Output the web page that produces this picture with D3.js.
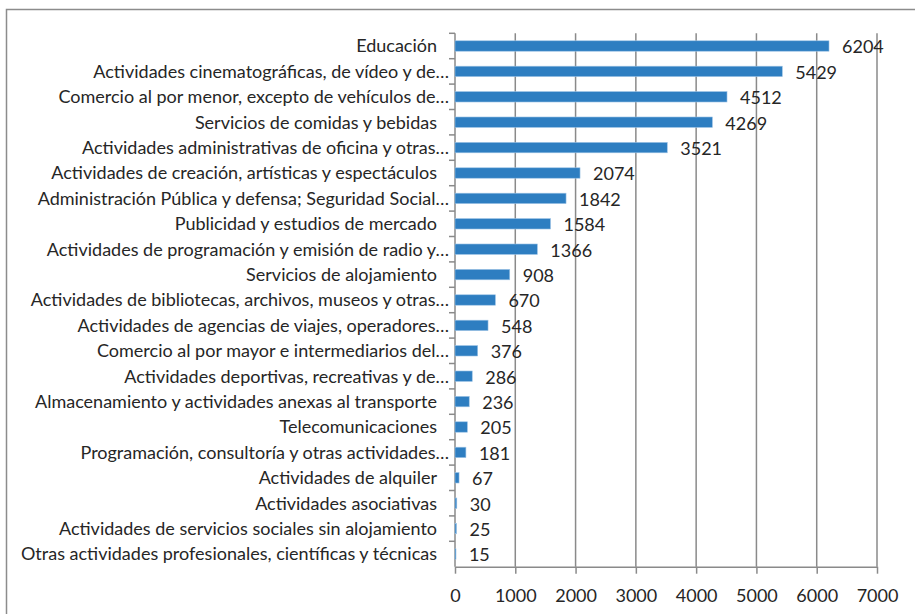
<!DOCTYPE html>
<html>
<head>
<meta charset="utf-8">
<style>
  body { margin: 0; background: #fff; }
  text { font-family: Lato, "Open Sans", sans-serif; fill: #262626; }
</style>
</head>
<body>
<svg width="915" height="614"></svg>
<script src="https://d3js.org/d3.v7.min.js"></script>
<script>

var categories = [
  "Educación",
  "Actividades cinematográficas, de vídeo y de…",
  "Comercio al por menor, excepto de vehículos de…",
  "Servicios de comidas y bebidas",
  "Actividades administrativas de oficina y otras…",
  "Actividades de creación, artísticas y espectáculos",
  "Administración Pública y defensa; Seguridad Social…",
  "Publicidad y estudios de mercado",
  "Actividades de programación y emisión de radio y…",
  "Servicios de alojamiento",
  "Actividades de bibliotecas, archivos, museos y otras…",
  "Actividades de agencias de viajes, operadores…",
  "Comercio al por mayor e intermediarios del…",
  "Actividades deportivas, recreativas y de…",
  "Almacenamiento y actividades anexas al transporte",
  "Telecomunicaciones",
  "Programación, consultoría y otras actividades…",
  "Actividades de alquiler",
  "Actividades asociativas",
  "Actividades de servicios sociales sin alojamiento",
  "Otras actividades profesionales, científicas y técnicas"
];
var values = [6204, 5429, 4512, 4269, 3521, 2074, 1842, 1584, 1366, 908,
              670, 548, 376, 286, 236, 205, 181, 67, 30, 25, 15];
var xTicks = [0, 1000, 2000, 3000, 4000, 5000, 6000, 7000];

var svg = d3.select("svg");

// chart frame (only top/left edges show in the crop)
svg.append("rect")
    .attr("x", 6.5).attr("y", 9.5)
    .attr("width", 930).attr("height", 630)
    .attr("fill", "none")
    .attr("stroke", "#8c8c8c")
    .attr("stroke-width", 1.5);

var x = d3.scaleLinear().domain([0, 7000]).range([455, 877]);
var y = d3.scaleBand().domain(categories).range([33.3, 566.7]).paddingInner(0.59).paddingOuter(0.295);
var band = d3.scaleBand().domain(categories).range([33.3, 566.7]);

// gridlines
svg.append("g")
  .selectAll("line")
  .data(xTicks.slice(1))
  .join("line")
    .attr("x1", function(d) { return x(d); })
    .attr("x2", function(d) { return x(d); })
    .attr("y1", 33.3)
    .attr("y2", 566.7)
    .attr("stroke", "#8a8a8a")
    .attr("stroke-width", 1.5);

// x axis
var xAxis = svg.append("g")
    .attr("transform", "translate(0,566.7)")
    .call(d3.axisBottom(x).tickValues(xTicks).tickFormat(d3.format("d"))
      .tickSize(7).tickSizeOuter(0).tickPadding(16));
xAxis.select(".domain").attr("stroke", "#8a8a8a").attr("stroke-width", 1.5);
xAxis.selectAll(".tick line").attr("stroke", "#8a8a8a").attr("stroke-width", 1.5);
xAxis.selectAll("text")
    .attr("font-family", "Lato, 'Open Sans', sans-serif")
    .attr("font-size", 18)
    .attr("fill", "#262626");

// y axis line and band ticks
svg.append("line")
    .attr("x1", 455).attr("x2", 455)
    .attr("y1", 33.3).attr("y2", 566.7)
    .attr("stroke", "#8a8a8a").attr("stroke-width", 1.5);
svg.append("g")
  .selectAll("line")
  .data(categories)
  .join("line")
    .attr("x1", 449).attr("x2", 455)
    .attr("y1", function(d) { return band(d); })
    .attr("y2", function(d) { return band(d); })
    .attr("stroke", "#8a8a8a").attr("stroke-width", 1.5);

// bars
svg.append("g")
  .selectAll("rect")
  .data(values)
  .join("rect")
    .attr("x", x(0))
    .attr("y", function(d, i) { return y(categories[i]); })
    .attr("width", function(d) { return Math.max(x(d) - x(0), 1); })
    .attr("height", y.bandwidth())
    .attr("fill", "#2e7ec1")
    .attr("stroke", "#9cc2e5")
    .attr("stroke-width", 0.6);

// value labels
svg.append("g")
  .selectAll("text")
  .data(values)
  .join("text")
    .attr("x", function(d) { return x(d) + 13; })
    .attr("y", function(d, i) { return band(categories[i]) + band.bandwidth() / 2 + 1; })
    .attr("dy", "0.36em")
    .attr("font-size", 18)
    .text(function(d) { return d; });

// category labels
svg.append("g")
  .selectAll("text")
  .data(categories)
  .join("text")
    .attr("x", function(d) { return d.slice(-1) === "…" ? 449 : 437; })
    .attr("y", function(d) { return band(d) + band.bandwidth() / 2; })
    .attr("dy", "0.36em")
    .attr("text-anchor", "end")
    .attr("font-size", 18)
    .text(function(d) { return d; });

</script>
</body>
</html>
